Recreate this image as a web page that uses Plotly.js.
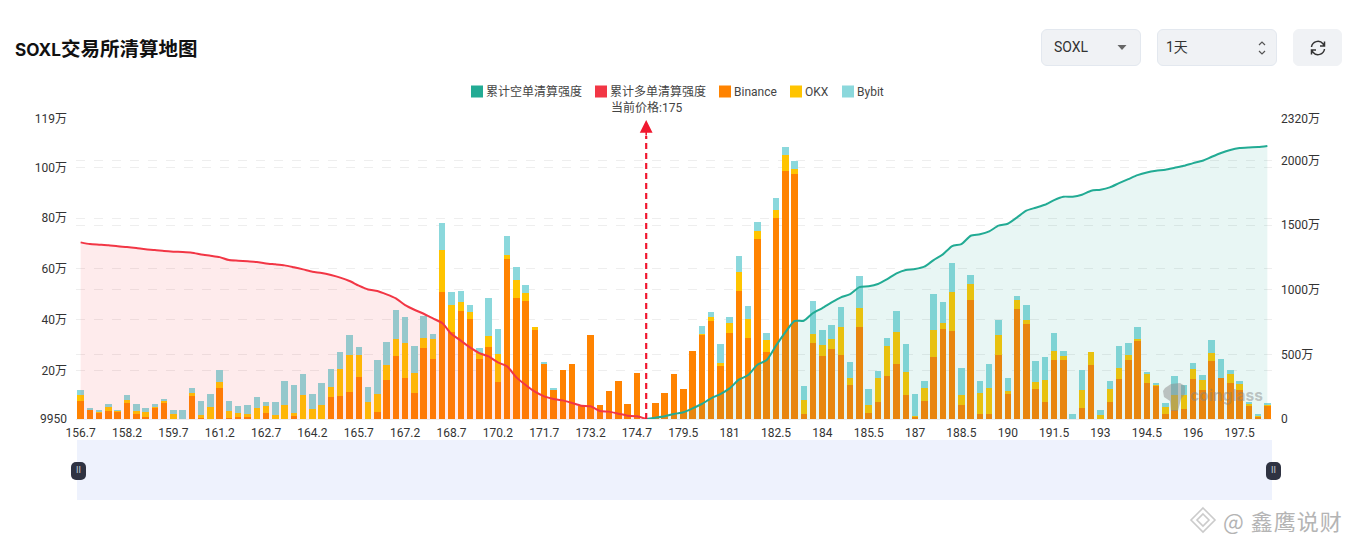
<!DOCTYPE html>
<html><head><meta charset="utf-8">
<script src="https://cdn.plot.ly/plotly-3.0.1.min.js"></script>
<style>
html,body{margin:0;padding:0;background:#fff;width:1352px;height:546px;overflow:hidden;font-family:Roboto,"Noto Sans CJK SC",sans-serif}
#chart{position:absolute;left:0;top:0;width:1352px;height:546px}
.box{position:absolute;top:29px;height:35px;border-radius:6px;background:#f0f2f5;border:1px solid #e3e8ef;font-size:14px;line-height:35px;color:#333}
.abs{position:absolute}
.handle{position:absolute;top:462px;width:15px;height:18px;border-radius:5px;background:#2f3342;color:#c9ccd6;font-size:9px;line-height:17px;text-align:center}
</style></head><body>
<div id="chart"></div>
<div class="box" style="left:1041px;width:98px"><span class="abs" style="left:12px">SOXL</span>
<svg class="abs" style="left:75px;top:15px" width="10" height="6"><path d="M0.5 0H9.5L5 5Z" fill="#666"/></svg></div>
<div class="box" style="left:1157px;width:118px"><span class="abs" style="left:8px">1天</span>
<svg class="abs" style="left:98px;top:9px" width="12" height="18" fill="none" stroke="#555" stroke-width="1.2"><path d="M3 6L6 3L9 6M3 12L6 15L9 12"/></svg></div>
<div class="box" style="left:1293px;width:47px;border-color:#f0f2f5"><svg class="abs" style="left:15px;top:9px" width="18" height="18" viewBox="0 0 18 18" fill="none" stroke="#333" stroke-width="1.5"><path d="M2.5 8A6.5 6.5 0 0 1 14 4.8L15.5 7M15.5 2.5V7H11M15.5 10A6.5 6.5 0 0 1 4 13.2L2.5 11M2.5 15.5V11H7"/></svg></div>
<div class="abs" style="left:77px;top:440px;width:1195px;height:60px;background:#eef2fd"></div>
<div class="handle" style="left:71px">II</div>
<div class="handle" style="left:1266px">II</div>
<svg class="abs" style="left:1162px;top:382px;opacity:.5" width="24" height="30" viewBox="0 0 24 30"><path d="M3 6L9 2L18 1L23 4V12L19 17L16 29H9L8 19L2 15L1 9Z" fill="#8d8d8d"/></svg>
<svg class="abs" style="left:1188px;top:505px;opacity:.6" width="30" height="30" viewBox="0 0 30 30" fill="none" stroke="#aaa" stroke-width="1.6"><path d="M15 3L27 15L15 27L3 15ZM15 9L21 15L15 21L9 15Z"/></svg>
<div class="abs" style="left:1223px;top:505px;font-size:22px;line-height:30px;color:#b4b4b4;font-family:'Noto Sans CJK SC';letter-spacing:1px;white-space:nowrap">@ 鑫鹰说财</div>
<script>
const categories=[156.7,157,157.3,157.6,157.9,158.2,158.5,158.8,159.1,159.4,159.7,160,160.3,160.6,160.9,161.2,161.5,161.8,162.1,162.4,162.7,163,163.3,163.6,163.9,164.2,164.5,164.8,165.1,165.4,165.7,166,166.3,166.6,166.9,167.2,167.5,167.8,168.1,168.4,168.7,169,169.3,169.6,169.9,170.2,170.5,170.8,171.1,171.4,171.7,172,172.3,172.6,172.9,173.2,173.5,173.8,174.1,174.4,174.7,175,
178.6,178.9,179.2,179.5,179.8,180.1,180.4,180.7,181,181.3,181.6,181.9,182.2,182.5,182.8,183.1,183.4,183.7,184,184.3,184.6,184.9,185.2,185.5,185.8,186.1,186.4,186.7,187,187.3,187.6,187.9,188.2,188.5,188.8,189.1,189.4,189.7,190,190.3,190.6,190.9,191.2,191.5,191.8,192.1,192.4,192.7,193,193.3,193.6,193.9,194.2,194.5,194.8,195.1,195.4,195.7,196,196.3,196.6,196.9,197.2,197.5,197.8,198.1,198.4].map(String);
const xTickLabels=["156.7","158.2","159.7","161.2","162.7","164.2","165.7","167.2","168.7","170.2","171.7","173.2","174.7","179.5","181","182.5","184","185.5","187","188.5","190","191.5","193","194.5","196","197.5"];
const leftTickVals=[0.995,20,40,60,80,100,119];
const leftTickText=["9950","20万","40万","60万","80万","100万","119万"];
const rightTickVals=[0,500,1000,1500,2000,2320];
const rightTickText=["0","500万","1000万","1500万","2000万","2320万"];
// values in 万
const binance=[8.1,4.7,3.4,4.3,3.9,7.4,3.1,1.8,5.4,7.6,0,0,10.1,1.3,0,13.2,1.4,1.8,1.9,0,3.5,0,0,2.3,0,0,0,9.8,10.2,11.6,17.6,0,3.9,16.3,25.9,17.3,11.4,29,24.6,50.8,35.4,43.6,40.3,24.6,29.3,15.7,63.8,48.5,47.3,35.9,22.8,12.7,20.2,22.6,6,34,6.6,12,15.9,6.8,19.1,0,
7.1,11.1,18.7,12.8,27.8,34.2,39.5,22,34.9,51.3,32.8,71.9,27.3,80.1,98.4,97.4,2.9,31,25.8,28.4,26.1,14.5,37.2,3.5,7.5,17.9,22.5,10.3,1.8,8,25.4,36.5,35.7,6.7,47.9,3,3.1,26.2,11,44.3,38.4,12.9,7.5,24.2,24.2,0,5.5,22.2,0,7.5,16.7,24.2,31.9,15,14,3,4.6,5.1,16.7,12.5,23.7,17.1,15.1,12.5,6,1.8,6.3];
const okx=[2.5,0,0.5,1.5,0.5,1.1,1.2,2,0.7,0.7,3,0,1.3,1.1,5.9,2.5,2.8,1.7,0.9,5.2,2.5,2.6,6.7,1.2,10.5,5.1,6.7,3.7,10.6,14.7,8.6,7.6,7,5.8,6.5,13.4,7.5,4,7.8,16.5,10.6,3.3,2.8,2.4,4.4,10.9,1.7,7,3.3,1.2,0,0,0,0,0,0,0,0,0,0,0,0,
0,0,0,0,0,0.4,1.7,1.2,4,7.6,7.6,3.2,4.9,3.2,6.3,1.9,5.7,3.4,4.4,4,10.9,2.6,7.4,3.2,9.7,11.8,12.7,9.2,0.3,5,10.7,2.2,15.4,3.8,6.3,8.4,10,7.7,1.1,3.6,1.7,2.5,8.8,3.6,1.7,0,7,5.2,2.6,5.2,4.4,2.1,0.5,3.7,0.5,2.9,5.7,5.2,3.8,4,3.4,0,3.7,2.2,0.9,0.3,0.5];
const bybit=[1.7,0.5,0.5,1.1,0.1,1.9,2.5,1.7,0.7,0.3,1.5,4.7,1.9,5.7,4.8,4.6,3.8,2.5,3.6,4.5,1.7,5.2,9.3,10.9,8.2,5.8,8.4,7.2,6.6,7.7,3,6,13.4,9,11.4,10.6,10.9,8.5,2.2,10.6,4.8,4.4,2.9,1.9,15,9.8,7.4,5.2,3,0,0.3,0.1,0,0,0,0,0,0,0,0,0,0,
0,0,0,0,0,2.9,2,7.3,2.2,6.2,4.9,3.2,2.6,4.6,3.4,3.2,5.4,13,5.7,5.4,8,6.5,12.5,6.2,2.6,3,8.2,11,8.8,2.9,13.9,8.2,11.4,10.6,3.4,4.5,9.6,6,5,1.6,5.7,8.6,9.2,7,1.9,3.1,7.7,0,2,3.3,8.8,4.6,4.6,0.7,0.4,1.5,7.6,4.2,2.5,1.9,4.9,7.6,1.6,1.3,0.7,0.9,0.5];
const longCum=[1366,1353,1348,1343,1335,1330,1322,1312,1307,1299,1294,1291,1286,1273,1263,1252,1229,1224,1219,1214,1203,1196,1188,1173,1157,1139,1129,1113,1093,1067,1031,1002,990,964,933,881,845,814,778,742,657,606,554,510,484,438,407,322,263,211,175,155,144,124,103,98,62,57,41,26,21,0];
const shortCum=[0,10,21,39,52,82,116,160,193,237,304,340,420,456,567,670,758,760,820,858,902,941,966,1020,1026,1044,1082,1126,1152,1160,1178,1229,1273,1337,1353,1417,1428,1451,1495,1510,1559,1611,1634,1657,1693,1719,1719,1734,1765,1773,1791,1824,1855,1886,1907,1920,1928,1943,1958,1979,1997,2028,2057,2080,2095,2100,2103,2111];
const legendNames=["累计空单清算强度","累计多单清算强度","Binance","OKX","Bybit"];
const legendSwatchCentres=[477,601,725,796,848];
const currentPrice="175";

const TEAL="#22ab94",RED="#f23645",ORANGE="#ff8300",YELLOW="#ffc400",CYAN="#8bd8dc";
const font={family:'Roboto,"Noto Sans CJK SC",sans-serif',size:12,color:"#333"};
const plotL=76.4,plotT=119,plotB=419.5,plotR=1272;
const py=v=>(plotB-v)/(plotB-plotT), px=v=>(v-plotL)/(plotR-plotL);
const priceIndex=categories.indexOf(currentPrice);
function barTrace(name,y,color){return {type:"bar",name,x:categories,y,marker:{color,line:{width:0}},hoverinfo:"x+y+name"};}
const data=[
 {type:"bar",name:legendNames[0],x:[categories[0]],y:[0],marker:{color:TEAL,line:{width:0}},hoverinfo:"skip"},
 {type:"bar",name:legendNames[1],x:[categories[0]],y:[0],marker:{color:RED,line:{width:0}},hoverinfo:"skip"},
 barTrace("Binance",binance,ORANGE),
 barTrace("OKX",okx,YELLOW),
 barTrace("Bybit",bybit,CYAN),
 {type:"scatter",mode:"lines",name:legendNames[1],x:categories.slice(0,62),y:longCum,yaxis:"y2",showlegend:false,line:{color:RED,width:2,shape:"spline",smoothing:0.6},fill:"tozeroy",fillcolor:"rgba(242,54,69,0.1)"},
 {type:"scatter",mode:"lines",name:legendNames[0],x:categories.slice(61),y:shortCum,yaxis:"y2",showlegend:false,line:{color:TEAL,width:2,shape:"spline",smoothing:0.6},fill:"tozeroy",fillcolor:"rgba(34,171,148,0.1)"}
];
const gridStyle={showgrid:true,gridcolor:"#eeeeee",griddash:"dash",gridwidth:1,zeroline:false,showline:false,ticks:""};
const layout={
 width:1352,height:546,paper_bgcolor:"#fff",plot_bgcolor:"#fff",font,
 margin:{l:plotL,r:1352-plotR,t:plotT,b:546-plotB,pad:0,autoexpand:false},
 title:{text:'<span style="font-size:17.2px">SOXL</span>交易所清算地图',x:15/1352,xanchor:"left",y:1-49/546,yanchor:"middle",xref:"container",yref:"container",
  font:{family:'Inter,"Noto Sans CJK SC",sans-serif',size:19.5,weight:700,color:"#111"}},
 barmode:"stack",bargap:0.3,
 showlegend:true,
 legend:{orientation:"h",x:px(457),xanchor:"left",y:py(77),yanchor:"top",traceorder:"normal",font:{size:12,color:"#444"},bgcolor:"rgba(0,0,0,0)"},
 xaxis:{type:"category",categoryorder:"array",categoryarray:categories,range:[-0.5,128.5],tickmode:"array",tickvals:xTickLabels,ticktext:xTickLabels,showgrid:false,zeroline:false,showline:true,linecolor:"#eeeeee",ticks:"",ticklabelstandoff:3,tickangle:0,tickfont:{size:12,color:"#333"}},
 yaxis:Object.assign({},gridStyle,{range:[0.995,119],tickmode:"array",tickvals:leftTickVals,ticktext:leftTickText,ticklabelstandoff:8,tickfont:{size:12,color:"#333"}}),
 yaxis2:Object.assign({},gridStyle,{overlaying:"y",side:"right",range:[0,2320],tickmode:"array",tickvals:rightTickVals,ticktext:rightTickText,ticklabelstandoff:8,tickfont:{size:12,color:"#333"}}),
 shapes:[{type:"line",xref:"x",yref:"paper",x0:priceIndex,x1:priceIndex,y0:0,y1:py(136),line:{color:"#f0182f",width:2.2,dash:"6px,4px"},layer:"above"}],
 annotations:[
  {xref:"x",yref:"paper",x:priceIndex,y:py(107.5),text:"当前价格:"+currentPrice,showarrow:false,xanchor:"center",yanchor:"middle",font:{size:12,color:"#444"}},
  {xref:"x",yref:"paper",x:priceIndex,y:py(120),text:"",showarrow:true,ax:0,ay:17,arrowhead:2,arrowsize:1.6,arrowwidth:1.6,arrowcolor:"#f0182f",standoff:0,startstandoff:0},
  {xref:"paper",yref:"paper",x:px(1188),y:py(396),text:"<b>coinglass</b>",showarrow:false,xanchor:"left",yanchor:"middle",font:{family:"Inter,sans-serif",size:15.5,color:"rgba(130,130,130,0.45)"}}
 ]
};
Plotly.newPlot("chart",data,layout,{displayModeBar:false}).then(()=>{
 document.querySelectorAll(".legend .traces").forEach((g,i)=>{
  const m=g.parentNode.getScreenCTM();
  const t=g.getAttribute("transform")||"";
  const yy=(t.match(/,\s*([-\d.]+)\)/)||[0,0])[1];
  g.setAttribute("transform","translate("+(legendSwatchCentres[i]-m.e-20)+","+yy+")");
  const tx=g.querySelector(".legendtext"); if(tx) tx.setAttribute("x",29);
 });
});
</script>
</body></html>
